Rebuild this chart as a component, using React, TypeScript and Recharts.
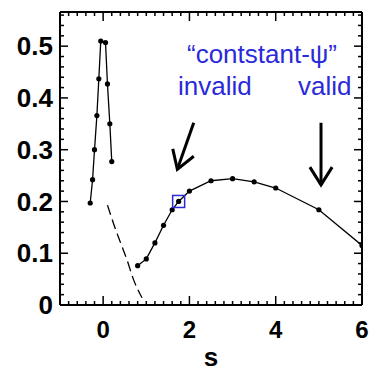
import React from "react";
import {
  LineChart,
  Line,
  XAxis,
  YAxis,
  ReferenceLine,
  ReferenceDot,
  Label,
} from "recharts";

// ---------------------------------------------------------------------------
// Data
// ---------------------------------------------------------------------------

// narrow peak near s = 0
const peakS = [-0.3, -0.245, -0.2, -0.145, -0.1, -0.055, 0.055, 0.1, 0.155, 0.2];
const peakV = [0.197, 0.242, 0.3, 0.366, 0.437, 0.51, 0.507, 0.427, 0.35, 0.277];

// broad curve
const mainS = [0.8, 1.0, 1.2, 1.4, 1.6, 1.75, 2.0, 2.5, 3.0, 3.5, 4.0, 5.0, 6.0];
const mainV = [0.076, 0.089, 0.12, 0.154, 0.184, 0.2, 0.22, 0.24, 0.244, 0.238, 0.226, 0.184, 0.115];
const BOX_INDEX = 5; // point marked with the blue square

// dashed guide
const dashS = [0.1, 0.25, 0.4, 0.55, 0.7, 0.9];
const dashV = [0.193, 0.155, 0.121, 0.088, 0.05, 0.014];

// axes
const X_DOMAIN: [number, number] = [-1, 6];
const Y_DOMAIN: [number, number] = [0, 0.566];
const xMajor = [0, 2, 4, 6];
const yMajor = [0, 0.1, 0.2, 0.3, 0.4, 0.5];
const yLabels = ["0", "0.1", "0.2", "0.3", "0.4", "0.5"];

// interior tick marks: majors at 0, 2, 4 and 0.1 .. 0.5; minors every 0.2 / 0.02
const xTickMajor = [0, 2, 4];
const yTickMajor = [0.1, 0.2, 0.3, 0.4, 0.5];
const xTickMinor: number[] = [];
for (let i = -4; i < 30; i++) if (i % 10 !== 0) xTickMinor.push(+(i * 0.2).toFixed(2));
const yTickMinor: number[] = [];
for (let i = 1; i <= 28; i++) if (i % 5 !== 0) yTickMinor.push(+(i * 0.02).toFixed(2));

// arrows: [tail, tip]
const arrowInvalid = [
  { x: 2.1, y: 0.352 },
  { x: 1.72, y: 0.262 },
];
const arrowValid = [
  { x: 5.05, y: 0.352 },
  { x: 5.05, y: 0.232 },
];

// layout
const W = 369;
const H = 372;
const MARGIN = { top: 12, right: 7, bottom: 0, left: 0 };
const Y_AXIS_W = 60;
const X_AXIS_H = 67;
const PLOT_LEFT = MARGIN.left + Y_AXIS_W;
const PLOT_RIGHT = W - MARGIN.right;
const PLOT_TOP = MARGIN.top;
const PLOT_BOTTOM = H - MARGIN.bottom - X_AXIS_H;

const FONT = "'Liberation Sans', Arial, Helvetica, sans-serif";
const BLUE = "#2a2ad8";
const AXIS_LINE = { stroke: "#000", strokeWidth: 2 };

const toPoints = (xs: number[], ys: number[]) =>
  xs.map((s, i) => ({ s, v: ys[i] }));

const peakData = toPoints(peakS, peakV);
const mainData = toPoints(mainS, mainV);
const dashData = toPoints(dashS, dashV);

const near = (a: number, b: number) => Math.abs(a - b) < 1e-6;

// ---------------------------------------------------------------------------
// Inward ticks: the segment only supplies the scaled position
// ---------------------------------------------------------------------------

function drawXTick(x: number, len: number) {
  return (
    <g>
      <line x1={x} y1={PLOT_BOTTOM} x2={x} y2={PLOT_BOTTOM - len} stroke="#000" strokeWidth={1.5} />
      <line x1={x} y1={PLOT_TOP} x2={x} y2={PLOT_TOP + len} stroke="#000" strokeWidth={1.5} />
    </g>
  );
}

function drawYTick(y: number, len: number) {
  return (
    <g>
      <line x1={PLOT_LEFT} y1={y} x2={PLOT_LEFT + len} y2={y} stroke="#000" strokeWidth={1.5} />
      <line x1={PLOT_RIGHT} y1={y} x2={PLOT_RIGHT - len} y2={y} stroke="#000" strokeWidth={1.5} />
    </g>
  );
}

function XTickMajor(props: any) {
  return drawXTick(props.x1, 9);
}
function XTickMinor(props: any) {
  return drawXTick(props.x1, 4);
}
function YTickMajor(props: any) {
  return drawYTick(props.y1, 8);
}
function YTickMinor(props: any) {
  return drawYTick(props.y1, 4);
}

function Arrow(props: any) {
  const { x1, y1, x2, y2 } = props;
  const ang = Math.atan2(y1 - y2, x1 - x2);
  const len = 21;
  const spread = (32 * Math.PI) / 180;
  const ax = x2 + len * Math.cos(ang + spread);
  const ay = y2 + len * Math.sin(ang + spread);
  const bx = x2 + len * Math.cos(ang - spread);
  const by = y2 + len * Math.sin(ang - spread);
  return (
    <g>
      <line x1={x1} y1={y1} x2={x2} y2={y2} stroke="#000" strokeWidth={3} />
      <polyline
        points={`${ax},${ay} ${x2},${y2} ${bx},${by}`}
        fill="none"
        stroke="#000"
        strokeWidth={3}
        strokeLinejoin="miter"
      />
    </g>
  );
}

function BoxMarker(props: any) {
  const { cx, cy } = props;
  return (
    <rect
      x={cx - 6}
      y={cy - 6}
      width={12}
      height={12}
      fill="none"
      stroke={BLUE}
      strokeWidth={1.5}
    />
  );
}

const labelStyle: React.CSSProperties = {
  position: "absolute",
  fontFamily: FONT,
  fontSize: 26,
  lineHeight: "26px",
  color: BLUE,
  whiteSpace: "nowrap",
};

export default function App() {
  return (
    <div
      style={{
        position: "absolute",
        left: 0,
        top: 0,
        width: W,
        height: H,
        background: "#fff",
      }}
    >
      <LineChart width={W} height={H} margin={MARGIN}>
        <XAxis
          xAxisId="x"
          type="number"
          dataKey="s"
          domain={X_DOMAIN}
          allowDataOverflow
          ticks={xMajor}
          interval={0}
          height={X_AXIS_H}
          tickLine={false}
          tickSize={0}
          tickMargin={16}
          axisLine={AXIS_LINE}
          tick={{ fontSize: 24, fontWeight: "bold", fill: "#000", fontFamily: FONT }}
        >
          <Label
            value="s"
            position="insideBottom"
            offset={6}
            style={{ fontSize: 26, fontWeight: "bold", fill: "#000", fontFamily: FONT }}
          />
        </XAxis>
        <YAxis
          yAxisId="y"
          type="number"
          domain={Y_DOMAIN}
          allowDataOverflow
          ticks={yMajor}
          interval={0}
          width={Y_AXIS_W}
          tickLine={false}
          tickSize={0}
          tickMargin={7}
          axisLine={AXIS_LINE}
          tickFormatter={(v: number) => yLabels[yMajor.findIndex((m) => near(m, v))] ?? String(v)}
          tick={{ fontSize: 26, fontWeight: "bold", fill: "#000", fontFamily: FONT }}
        />

        {/* frame: top and right edges */}
        <ReferenceLine xAxisId="x" yAxisId="y" y={Y_DOMAIN[1]} stroke="#000" strokeWidth={2} />
        <ReferenceLine xAxisId="x" yAxisId="y" x={X_DOMAIN[1]} stroke="#000" strokeWidth={2} />

        {/* tick marks on all four sides */}
        {xTickMajor.map((t) => (
          <ReferenceLine
            key={`xM${t}`}
            xAxisId="x"
            yAxisId="y"
            segment={[
              { x: t, y: 0.1 },
              { x: t, y: 0.4 },
            ]}
            shape={XTickMajor}
          />
        ))}
        {xTickMinor.map((t) => (
          <ReferenceLine
            key={`xm${t}`}
            xAxisId="x"
            yAxisId="y"
            segment={[
              { x: t, y: 0.1 },
              { x: t, y: 0.4 },
            ]}
            shape={XTickMinor}
          />
        ))}
        {yTickMajor.map((t) => (
          <ReferenceLine
            key={`yM${t}`}
            xAxisId="x"
            yAxisId="y"
            segment={[
              { x: 0, y: t },
              { x: 2, y: t },
            ]}
            shape={YTickMajor}
          />
        ))}
        {yTickMinor.map((t) => (
          <ReferenceLine
            key={`ym${t}`}
            xAxisId="x"
            yAxisId="y"
            segment={[
              { x: 0, y: t },
              { x: 2, y: t },
            ]}
            shape={YTickMinor}
          />
        ))}

        <Line
          xAxisId="x"
          yAxisId="y"
          data={dashData}
          dataKey="v"
          type="monotone"
          stroke="#000"
          strokeWidth={1.3}
          strokeDasharray="10 5"
          dot={false}
          activeDot={false}
          isAnimationActive={false}
        />
        <Line
          xAxisId="x"
          yAxisId="y"
          data={peakData}
          dataKey="v"
          type="linear"
          stroke="#000"
          strokeWidth={1.3}
          dot={{ r: 2.6, fill: "#000", stroke: "#000", strokeWidth: 0 }}
          activeDot={false}
          isAnimationActive={false}
        />
        <Line
          xAxisId="x"
          yAxisId="y"
          data={mainData}
          dataKey="v"
          type="linear"
          stroke="#000"
          strokeWidth={1.3}
          dot={{ r: 2.6, fill: "#000", stroke: "#000", strokeWidth: 0 }}
          activeDot={false}
          isAnimationActive={false}
        />

        <ReferenceDot
          xAxisId="x"
          yAxisId="y"
          x={mainS[BOX_INDEX]}
          y={mainV[BOX_INDEX]}
          shape={BoxMarker}
        />
        <ReferenceLine xAxisId="x" yAxisId="y" segment={arrowInvalid} shape={Arrow} />
        <ReferenceLine xAxisId="x" yAxisId="y" segment={arrowValid} shape={Arrow} />
      </LineChart>

      <div style={{ ...labelStyle, left: 187, top: 41, width: 150, textAlign: "center" }}>
        “contstant-ψ”
      </div>
      <div style={{ ...labelStyle, left: 178, top: 73 }}>invalid</div>
      <div style={{ ...labelStyle, left: 298, top: 73 }}>valid</div>
    </div>
  );
}
